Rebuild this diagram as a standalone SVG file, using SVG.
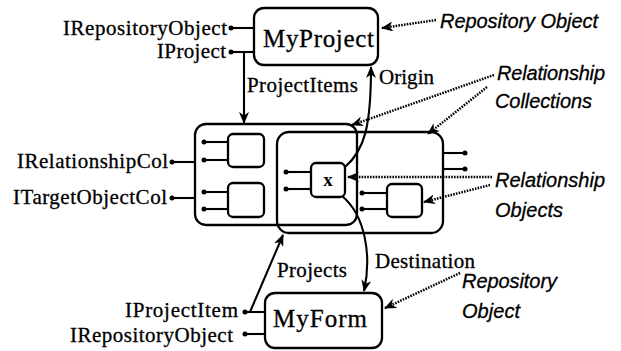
<svg xmlns="http://www.w3.org/2000/svg" width="621" height="351" viewBox="0 0 621 351">
<defs>
<style>
.box{fill:none;stroke:#000;stroke-width:2.3}
.stub{stroke:#000;stroke-width:2.1}
.dot{fill:#000}
.conn{fill:none;stroke:#000;stroke-width:2.1}
.dotted{fill:none;stroke:#000;stroke-width:2.5;stroke-dasharray:1.6 1.2}
.lbl{font-family:"Liberation Serif","Times New Roman",serif;font-size:21px;fill:#000;stroke:#000;stroke-width:0.3}
.big{font-family:"Liberation Serif","Times New Roman",serif;font-size:25px;fill:#000;stroke:#000;stroke-width:0.3}
.note{font-family:"Liberation Sans",Arial,sans-serif;font-style:italic;font-size:20px;fill:#000;stroke:#000;stroke-width:0.3}
</style>
<marker id="ah" viewBox="0 0 12 10" refX="11" refY="5" markerWidth="12" markerHeight="10" markerUnits="userSpaceOnUse" orient="auto">
<path d="M0,0 L12,5 L0,10 L3.5,5 z" fill="#000"/>
</marker>
</defs>
<rect width="621" height="351" fill="#fff"/>

<g id="myproject">
<rect class="box" x="254" y="8" width="124" height="57" rx="10"/>
<text class="big" x="263" y="47" textLength="111">MyProject</text>
<line class="stub" x1="231" y1="28" x2="254" y2="28"/>
<circle class="dot" cx="231" cy="28" r="2.5"/>
<line class="stub" x1="231" y1="52" x2="254" y2="52"/>
<circle class="dot" cx="231" cy="52" r="2.5"/>
<text class="lbl" x="63" y="35" textLength="164">IRepositoryObject</text>
<text class="lbl" x="157" y="58" textLength="69">IProject</text>
</g>

<g id="left-collection">
<rect class="box" x="195" y="124" width="162" height="101" rx="11"/>
<rect class="box" x="228" y="134" width="36" height="33" rx="5"/>
<rect class="box" x="228" y="183" width="36" height="34" rx="5"/>
<line class="stub" x1="204" y1="142" x2="228" y2="142"/>
<line class="stub" x1="204" y1="160" x2="228" y2="160"/>
<line class="stub" x1="204" y1="192" x2="228" y2="192"/>
<line class="stub" x1="204" y1="209" x2="228" y2="209"/>
<circle class="dot" cx="204" cy="142" r="2.5"/>
<circle class="dot" cx="204" cy="160" r="2.5"/>
<circle class="dot" cx="204" cy="192" r="2.5"/>
<circle class="dot" cx="204" cy="209" r="2.5"/>
<line class="stub" x1="172" y1="162" x2="195" y2="162"/>
<line class="stub" x1="172" y1="198" x2="195" y2="198"/>
<circle class="dot" cx="172" cy="162" r="2.5"/>
<circle class="dot" cx="172" cy="198" r="2.5"/>
<text class="lbl" x="17" y="168" textLength="151">IRelationshipCol</text>
<text class="lbl" x="13" y="204" textLength="154">ITargetObjectCol</text>
</g>

<g id="right-collection">
<rect class="box" x="277" y="132" width="166" height="101" rx="12"/>
<rect class="box" x="387" y="184" width="35" height="33" rx="5"/>
<line class="stub" x1="362" y1="193" x2="387" y2="193"/>
<line class="stub" x1="362" y1="209" x2="387" y2="209"/>
<circle class="dot" cx="362" cy="193" r="2.5"/>
<circle class="dot" cx="362" cy="209" r="2.5"/>
<line class="stub" x1="443" y1="153" x2="465" y2="153"/>
<line class="stub" x1="443" y1="169" x2="465" y2="169"/>
<circle class="dot" cx="465" cy="153" r="2.5"/>
<circle class="dot" cx="465" cy="169" r="2.5"/>
</g>

<g id="x-object">
<rect class="box" x="311" y="163" width="34" height="34" rx="5"/>
<line class="stub" x1="286" y1="172" x2="311" y2="172"/>
<line class="stub" x1="286" y1="189" x2="311" y2="189"/>
<circle class="dot" cx="286" cy="172" r="2.5"/>
<circle class="dot" cx="286" cy="189" r="2.5"/>
<text x="328" y="186" text-anchor="middle" font-family="Liberation Serif,serif" font-weight="bold" font-size="19">x</text>
</g>

<g id="myform">
<rect class="box" x="265" y="293" width="117" height="55" rx="10"/>
<text class="big" x="273" y="327" textLength="94">MyForm</text>
<line class="stub" x1="245" y1="312" x2="265" y2="312"/>
<circle class="dot" cx="245" cy="312" r="2.5"/>
<line class="stub" x1="245" y1="334" x2="265" y2="334"/>
<circle class="dot" cx="245" cy="334" r="2.5"/>
<text class="lbl" x="125" y="317" textLength="113">IProjectItem</text>
<text class="lbl" x="70" y="342" textLength="163">IRepositoryObject</text>
</g>

<g id="connectors">
<line class="conn" x1="244" y1="52" x2="244" y2="123" marker-end="url(#ah)"/>
<path class="conn" d="M345,167 C365,150 371,125 371,67" marker-end="url(#ah)"/>
<path class="conn" d="M342,196 C365,215 372,255 364,291" marker-end="url(#ah)"/>
<line class="conn" x1="250" y1="312" x2="283" y2="235" marker-end="url(#ah)"/>
<line class="dotted" x1="436" y1="20" x2="382" y2="28" marker-end="url(#ah)"/>
<line class="dotted" x1="494" y1="75" x2="352" y2="125" marker-end="url(#ah)"/>
<line class="dotted" x1="487" y1="87" x2="428" y2="134" marker-end="url(#ah)"/>
<line class="dotted" x1="492" y1="177" x2="348" y2="177" marker-end="url(#ah)"/>
<line class="dotted" x1="490" y1="185" x2="424" y2="202" marker-end="url(#ah)"/>
<line class="dotted" x1="460" y1="273" x2="385" y2="308" marker-end="url(#ah)"/>
<text class="lbl" x="247" y="92" textLength="111">ProjectItems</text>
<text class="lbl" x="379" y="84" textLength="55">Origin</text>
<text class="lbl" x="277" y="277" textLength="70">Projects</text>
<text class="lbl" x="375" y="268" textLength="100">Destination</text>
</g>

<g id="annotations">
<text class="note" x="440" y="28" textLength="158">Repository Object</text>
<text class="note" x="497" y="80" textLength="108">Relationship</text>
<text class="note" x="495" y="108" textLength="97">Collections</text>
<text class="note" x="495" y="187" textLength="110">Relationship</text>
<text class="note" x="495" y="217" textLength="68">Objects</text>
<text class="note" x="462" y="288" textLength="95">Repository</text>
<text class="note" x="462" y="318" textLength="58">Object</text>
</g>
</svg>
